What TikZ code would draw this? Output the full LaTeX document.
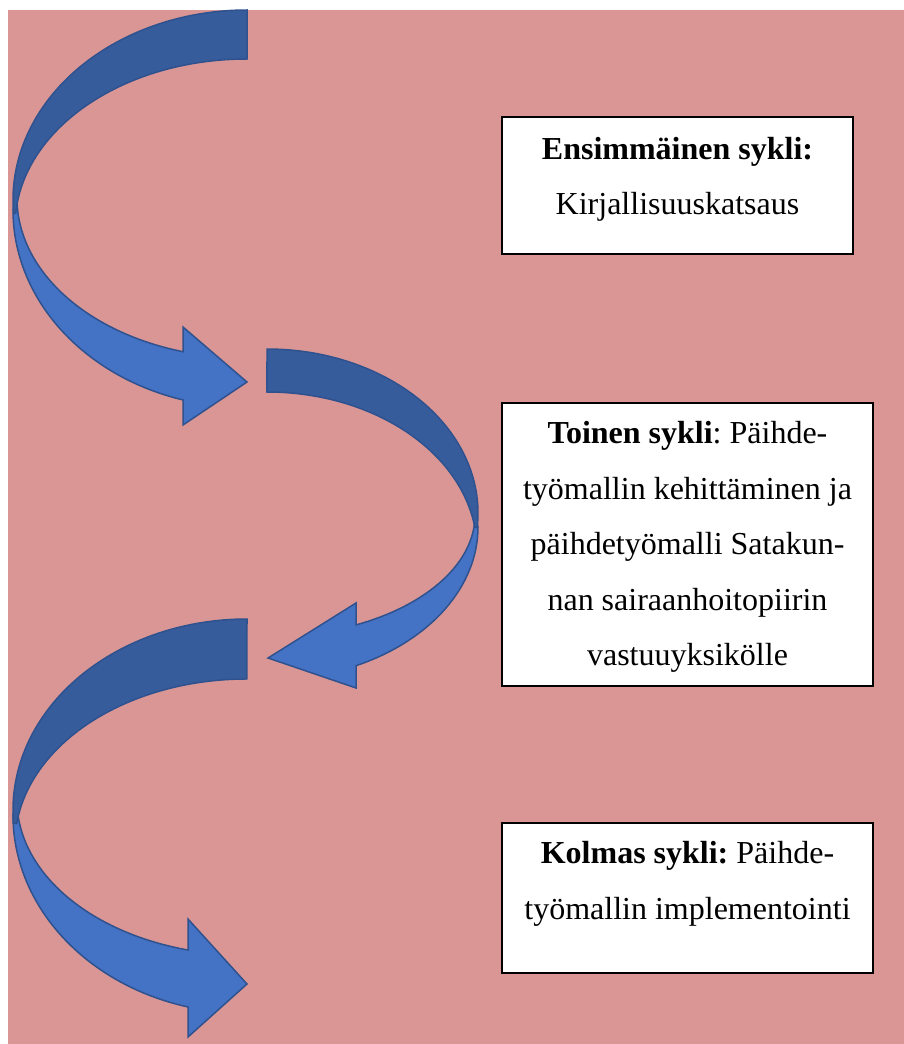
\documentclass[tikz,border=0pt]{standalone}
\usepackage{fontspec}
\setmainfont{Liberation Serif}
\begin{document}
\begin{tikzpicture}[x=1pt,y=-1pt,
  frontface/.style={fill=arrowlight, draw=arrowedge, line width=1.5pt, line join=miter},
  backface/.style={fill=arrowdark, draw=arrowedge, line width=1.5pt, line join=miter},
  cyclebox/.style={draw=black, fill=white, line width=1.2pt, inner sep=0pt},
  cycletext/.style={anchor=base, inner sep=0pt, text width=362pt, align=flush center,
    font=\fontsize{32}{55.5}\selectfont\frenchspacing}]
\definecolor{bgpink}{HTML}{D99694}
\definecolor{arrowlight}{HTML}{4472C4}
\definecolor{arrowdark}{HTML}{365C9C}
\definecolor{arrowedge}{HTML}{2F528F}

% page and coloured panel
\useasboundingbox (0,0) rectangle (904,1044);
\fill[white] (0,0) rectangle (904,1044);
\fill[bgpink] (8,10) rectangle (904,1044);

% first curved arrow (turns left, points right)
\path[frontface] (13,210) arc[start angle=180, end angle=105.87, x radius=234, y radius=197.5]
  -- (183,425) -- (247,382) -- (183,327) -- (183,351.7)
  arc[start angle=106.16, end angle=180, x radius=230, y radius=160] -- cycle;
\path[backface] (247,10) arc[start angle=270, end angle=176, x radius=234, y radius=190]
  -- (15.7,213.3) arc[start angle=184.36, end angle=270, x radius=232, y radius=167] -- cycle;

% second curved arrow (turns right, points left)
\path[frontface] (478,527) arc[start angle=0, end angle=65.05, x radius=211, y radius=153]
  -- (356,688) -- (268,658) -- (356,603) -- (356,624.9)
  arc[start angle=64.67, end angle=0, x radius=208, y radius=121.7] -- cycle;
\path[backface] (267,349) arc[start angle=270, end angle=365, x radius=211, y radius=164]
  -- (474.8,527.3) arc[start angle=-8.26, end angle=-90, x radius=210, y radius=158] -- cycle;

% third curved arrow (turns left, points right)
\path[frontface] (13,815) arc[start angle=180, end angle=104.6, x radius=234, y radius=198.4]
  -- (188,1037) -- (247,984) -- (188,919) -- (188,950)
  arc[start angle=104.86, end angle=180, x radius=230, y radius=155] -- cycle;
\path[backface] (247,619) arc[start angle=270, end angle=176, x radius=234, y radius=191]
  -- (16.8,823.3) arc[start angle=187.2, end angle=270, x radius=232, y radius=165] -- cycle;

% cycle boxes
\node[cyclebox, minimum width=351pt, minimum height=137pt] (box1) at (677.5,185.5) {};
\node[cyclebox, minimum width=371pt, minimum height=283pt] (box2) at (687.5,544.5) {};
\node[cyclebox, minimum width=371pt, minimum height=150pt] (box3) at (687.5,898) {};

\node[cycletext] (text1) at (677.5,159) {\textbf{Ensimmäinen sykli:}\\Kirjallisuuskatsaus};
\node[cycletext] (text2) at (687.5,443.5) {\textbf{Toinen sykli}: Päihde-\\työmallin kehittäminen ja\\päihdetyömalli Satakun-\\nan sairaanhoitopiirin\\vastuuyksikölle};
\node[cycletext] (text3) at (687.5,863.5) {\textbf{Kolmas sykli:} Päihde-\\työmallin implementointi};
\end{tikzpicture}
\end{document}
